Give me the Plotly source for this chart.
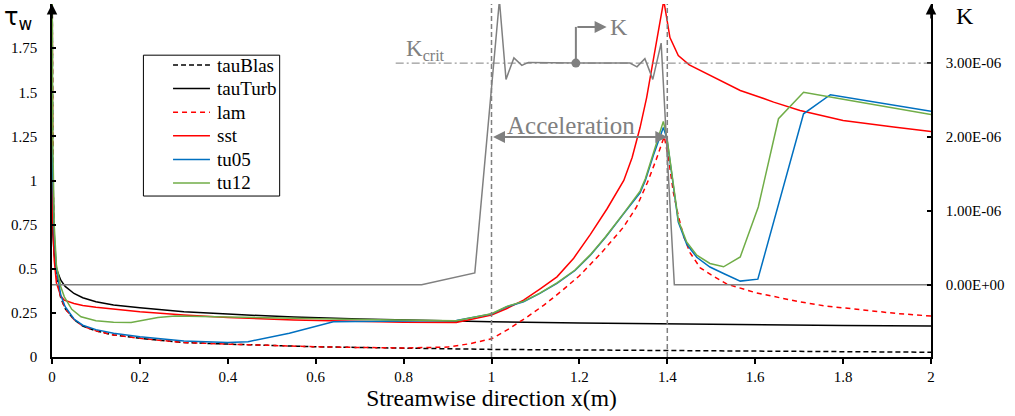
import plotly.graph_objects as go

# ---- wall shear stress tau_w along the plate ----
x_blas = [0, 0.002, 0.005, 0.01, 0.02, 0.03, 0.05, 0.07, 0.1, 0.14, 0.2, 0.3, 0.4, 0.5,
          0.6, 0.7, 0.8, 0.9, 1.0, 1.2, 1.4, 1.6, 1.8, 2.0]
tau_blas = [2.4, 1.06, 0.67, 0.47, 0.335, 0.274, 0.212, 0.175, 0.148, 0.125, 0.106, 0.082,
            0.073, 0.064, 0.058, 0.054, 0.050, 0.046, 0.043, 0.040, 0.036, 0.033, 0.030, 0.027]

x_turb = [0, 0.002, 0.005, 0.01, 0.02, 0.03, 0.05, 0.07, 0.1, 0.14, 0.2, 0.3, 0.4, 0.55,
          0.7, 0.85, 1.0, 1.2, 1.4, 1.6, 1.8, 2.0]
tau_turb = [1.0, 0.7, 0.58, 0.5, 0.435, 0.4, 0.36, 0.336, 0.313, 0.294, 0.279, 0.256, 0.243,
            0.226, 0.215, 0.207, 0.2, 0.193, 0.187, 0.182, 0.178, 0.175]

x_lam = [0, 0.002, 0.005, 0.01, 0.02, 0.03, 0.05, 0.07, 0.1, 0.14, 0.2, 0.3, 0.4, 0.5,
         0.6, 0.7, 0.8, 0.9, 0.95, 1.0, 1.04, 1.08, 1.12, 1.16, 1.2, 1.25, 1.3, 1.33,
         1.355, 1.375, 1.393, 1.403, 1.414, 1.425, 1.437, 1.452, 1.475, 1.5, 1.536, 1.6,
         1.66, 1.7, 1.76, 1.84, 1.92, 2.0]
tau_lam = [2.4, 1.06, 0.67, 0.47, 0.335, 0.274, 0.212, 0.175, 0.148, 0.125, 0.106, 0.082,
           0.073, 0.064, 0.058, 0.054, 0.051, 0.056, 0.075, 0.103, 0.16, 0.225, 0.295,
           0.375, 0.46, 0.59, 0.735, 0.85, 0.99, 1.12, 1.25, 1.12, 0.93, 0.8, 0.685, 0.59,
           0.505, 0.465, 0.413, 0.365, 0.332, 0.313, 0.289, 0.266, 0.247, 0.232]

x_sst = [0, 0.002, 0.005, 0.01, 0.02, 0.028, 0.05, 0.07, 0.1, 0.14, 0.2, 0.3, 0.4, 0.55,
         0.7, 0.8, 0.92, 1.0, 1.035, 1.073, 1.11, 1.149, 1.187, 1.225, 1.263, 1.301, 1.32,
         1.338, 1.353, 1.368, 1.38, 1.392, 1.406, 1.425, 1.45, 1.49, 1.536, 1.566, 1.611,
         1.642, 1.702, 1.75, 1.8, 1.915, 2.0]
tau_sst = [1.25, 0.75, 0.55, 0.42, 0.345, 0.322, 0.303, 0.292, 0.282, 0.27, 0.256, 0.238,
           0.224, 0.209, 0.2, 0.197, 0.195, 0.238, 0.275, 0.322, 0.385, 0.454, 0.56, 0.695,
           0.84, 1.0, 1.13, 1.30, 1.47, 1.68, 1.85, 2.02, 1.81, 1.708, 1.655, 1.605, 1.548,
           1.51, 1.472, 1.444, 1.397, 1.369, 1.34, 1.303, 1.278]

x_tu05 = [0, 0.002, 0.005, 0.01, 0.02, 0.03, 0.05, 0.07, 0.1, 0.14, 0.2, 0.3, 0.4, 0.446,
          0.54, 0.64, 0.8, 0.92, 1.0, 1.035, 1.073, 1.11, 1.149, 1.19, 1.225, 1.26, 1.301,
          1.338, 1.35, 1.368, 1.391, 1.399, 1.425, 1.444, 1.467, 1.497, 1.528, 1.566,
          1.606, 1.71, 1.771, 2.0]
tau_tu05 = [1.2, 0.95, 0.7, 0.5, 0.35, 0.285, 0.215, 0.18, 0.155, 0.135, 0.115, 0.09,
            0.082, 0.087, 0.135, 0.2, 0.205, 0.207, 0.243, 0.285, 0.313, 0.36, 0.417, 0.49,
            0.577, 0.68, 0.813, 0.93, 1.0, 1.14, 1.30, 1.24, 0.765, 0.64, 0.565, 0.51,
            0.473, 0.43, 0.441, 1.378, 1.486, 1.393]

x_tu12 = [0, 0.002, 0.005, 0.01, 0.02, 0.028, 0.045, 0.066, 0.1, 0.14, 0.18, 0.241, 0.28,
          0.4, 0.55, 0.7, 0.92, 1.0, 1.035, 1.073, 1.11, 1.149, 1.19, 1.225, 1.26, 1.301,
          1.338, 1.35, 1.368, 1.391, 1.399, 1.425, 1.444, 1.467, 1.497, 1.528, 1.566,
          1.607, 1.653, 1.71, 1.8, 2.0]
tau_tu12 = [2.3, 1.2, 0.75, 0.52, 0.398, 0.341, 0.27, 0.228, 0.205, 0.197, 0.196, 0.224,
            0.232, 0.228, 0.22, 0.213, 0.206, 0.245, 0.287, 0.315, 0.362, 0.42, 0.493,
            0.58, 0.683, 0.815, 0.94, 1.01, 1.152, 1.335, 1.246, 0.775, 0.652, 0.577, 0.53,
            0.511, 0.567, 0.85, 1.35, 1.50, 1.46, 1.374]

# ---- acceleration parameter K (right axis) ----
x_k = [0, 0.841, 0.962, 1.018, 1.033, 1.051, 1.069, 1.084, 1.192, 1.315, 1.331, 1.349,
       1.367, 1.386, 1.416, 2.0]
k_val = [0, 0, 0.16e-6, 3.85e-6, 2.78e-6, 3.07e-6, 2.97e-6, 3.01e-6, 3.0e-6, 3.0e-6,
         2.95e-6, 3.06e-6, 2.78e-6, 3.27e-6, 0, 0]

K_CRIT = 3.0e-6
K_POINT_X = 1.192
ACC_START, ACC_END = 1.0, 1.4

x_ticks = [0, 0.2, 0.4, 0.6, 0.8, 1.0, 1.2, 1.4, 1.6, 1.8, 2.0]
x_ticktext = ["0", "0.2", "0.4", "0.6", "0.8", "1", "1.2", "1.4", "1.6", "1.8", "2"]
y_ticks = [0, 0.25, 0.5, 0.75, 1.0, 1.25, 1.5, 1.75]
y_ticktext = ["0", "0.25", "0.5", "0.75", "1", "1.25", "1.5", "1.75"]
k_ticks = [0, 1e-6, 2e-6, 3e-6]
k_ticktext = ["0.00E+00", "1.00E-06", "2.00E-06", "3.00E-06"]

SERIF = "Liberation Serif, Times New Roman, DejaVu Serif, serif"
GRAY = "#808080"
TICK_FONT = dict(family=SERIF, size=15, color="black")

fig = go.Figure()

fig.add_trace(go.Scatter(x=x_k, y=k_val, yaxis="y2", mode="lines",
                         line=dict(color=GRAY, width=1.5), showlegend=False,
                         hoverinfo="skip"))
fig.add_trace(go.Scatter(x=[K_POINT_X], y=[K_CRIT], yaxis="y2", mode="markers",
                         marker=dict(color=GRAY, size=9), showlegend=False,
                         hoverinfo="skip"))

series = [
    ("tauBlas", x_blas, tau_blas, "black", "5px,3px"),
    ("tauTurb", x_turb, tau_turb, "black", "solid"),
    ("lam", x_lam, tau_lam, "#FF0000", "5px,4px"),
    ("sst", x_sst, tau_sst, "#FF0000", "solid"),
    ("tu05", x_tu05, tau_tu05, "#0070C0", "solid"),
    ("tu12", x_tu12, tau_tu12, "#70AD47", "solid"),
]
for name, xs, ys, color, dash in series:
    fig.add_trace(go.Scatter(x=xs, y=ys, name=name, mode="lines", showlegend=False,
                             line=dict(color=color, width=1.5, dash=dash)))

shapes = [
    # start and end of the acceleration zone
    dict(type="line", xref="x", yref="paper", x0=ACC_START, x1=ACC_START, y0=0, y1=1,
         line=dict(color=GRAY, width=1.5, dash="5px,3px")),
    dict(type="line", xref="x", yref="paper", x0=ACC_END, x1=ACC_END, y0=0, y1=1,
         line=dict(color=GRAY, width=1.5, dash="5px,3px")),
    # critical K level
    dict(type="line", xref="x", yref="y2", x0=0.782, x1=2.0, y0=K_CRIT, y1=K_CRIT,
         line=dict(color=GRAY, width=1, dash="8px,3px,2px,3px")),
    # stem of the K pointer
    dict(type="line", xref="x", yref="y2", x0=K_POINT_X, x1=K_POINT_X, y0=K_CRIT,
         y1=3.49e-6, line=dict(color=GRAY, width=2)),
    # legend frame
    dict(type="rect", xref="paper", yref="paper", x0=0.104, x1=0.259, y0=0.456, y1=0.855,
         line=dict(color="black", width=1), fillcolor="white", layer="below"),
]

annotations = [
    # axis arrows
    dict(x=0, y=1, xref="paper", yref="paper", ax=0, ay=16, text="", showarrow=True,
         arrowhead=2, arrowsize=1.4, arrowwidth=1.5, arrowcolor="black"),
    dict(x=1, y=1, xref="paper", yref="paper", ax=0, ay=16, text="", showarrow=True,
         arrowhead=2, arrowsize=1.4, arrowwidth=1.5, arrowcolor="black"),
    # axis titles
    dict(x=-0.057, y=1.008, xref="paper", yref="paper", text="τ<sub>w</sub>",
         showarrow=False, xanchor="left", yanchor="top",
         font=dict(family="DejaVu Sans", size=24, color="black")),
    dict(x=1.026, y=1.008, xref="paper", yref="paper", text="K", showarrow=False,
         xanchor="left", yanchor="top", font=dict(family=SERIF, size=24, color="black")),
    # K pointer
    dict(x=1.262, y=3.49e-6, xref="x", yref="y2", ax=K_POINT_X, ay=3.49e-6, axref="x",
         ayref="y2", text="", showarrow=True, arrowhead=2, arrowsize=1.2, arrowwidth=2,
         arrowcolor=GRAY),
    dict(x=1.266, y=3.49e-6, xref="x", yref="y2", text="K", showarrow=False,
         xanchor="left", font=dict(family=SERIF, size=24, color=GRAY)),
    # K_crit label
    dict(x=0.802, y=2.96e-6, xref="x", yref="y2", text="K<sub>crit</sub>",
         showarrow=False, xanchor="left", yanchor="bottom",
         font=dict(family=SERIF, size=23, color=GRAY)),
    # acceleration zone
    dict(x=ACC_END, y=2e-6, xref="x", yref="y2", ax=ACC_START, ay=2e-6, axref="x",
         ayref="y2", text="", showarrow=True, arrowhead=2, arrowside="end+start",
         arrowsize=1.2, arrowwidth=2, arrowcolor=GRAY),
    dict(x=1.18, y=2.15e-6, xref="x", yref="y2", text="Acceleration", showarrow=False,
         font=dict(family=SERIF, size=25, color=GRAY)),
]

# legend entries: sample line plus name, stacked inside the frame
legend_top_px, legend_step_px = 65.0, 23.6
for i, (name, xs, ys, color, dash) in enumerate(series):
    yy = (357.0 - (legend_top_px + i * legend_step_px)) / 353.0
    shapes.append(dict(type="line", xref="paper", yref="paper", x0=0.1377, x1=0.1797,
                       y0=yy, y1=yy, line=dict(color=color, width=1.5, dash=dash)))
    annotations.append(dict(x=0.1854, y=yy, xref="paper", yref="paper", text=name,
                            showarrow=False, xanchor="left", yanchor="middle",
                            font=dict(family=SERIF, size=19, color="black")))

fig.update_layout(
    width=1015, height=416,
    margin=dict(l=52, r=84, t=4, b=59),
    paper_bgcolor="white", plot_bgcolor="white",
    font=dict(family=SERIF, size=15, color="black"),
    shapes=shapes, annotations=annotations,
    showlegend=False,
    xaxis=dict(range=[0, 2], tickvals=x_ticks, ticktext=x_ticktext, ticks="outside",
               ticklen=5, tickwidth=1.5, tickcolor="black", showline=True,
               linecolor="black", linewidth=1.5, showgrid=False, zeroline=False,
               tickfont=TICK_FONT,
               title=dict(text="Streamwise direction x(m)",
                          font=dict(family=SERIF, size=23.5), standoff=2)),
    xaxis3=dict(range=[0, 2], overlaying="x", anchor="y", tickvals=x_ticks,
                ticks="inside", ticklen=5, tickwidth=1.5, tickcolor="black",
                showticklabels=False, showline=False, showgrid=False, zeroline=False),
    yaxis=dict(range=[0, 2], tickvals=y_ticks, ticktext=y_ticktext, ticks="inside",
               ticklen=4, tickwidth=1.5, tickcolor="black", showline=True,
               linecolor="black", linewidth=1.5, showgrid=False, zeroline=False,
               tickfont=TICK_FONT, ticklabelstandoff=10),
    yaxis2=dict(range=[-0.977e-6, 3.80e-6], overlaying="y", side="right",
                tickvals=k_ticks, ticktext=k_ticktext, ticks="inside", ticklen=4,
                tickwidth=1.5, tickcolor="black", showline=True, linecolor="black",
                linewidth=1.5, showgrid=False, zeroline=False, tickfont=TICK_FONT,
                ticklabelstandoff=10),
)

fig.write_html("out.html")
